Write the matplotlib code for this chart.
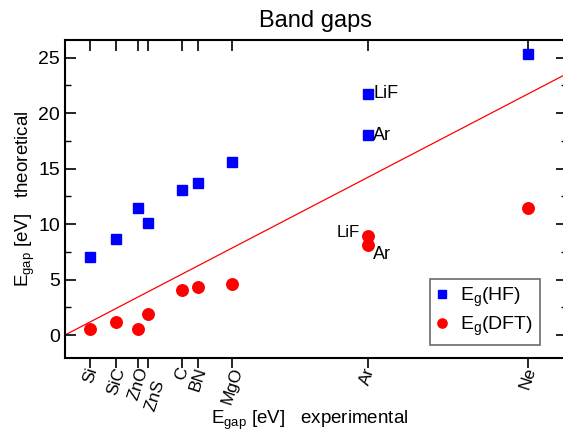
import matplotlib
matplotlib.use("Agg")
import matplotlib.pyplot as plt
import matplotlib.transforms as mtransforms
from matplotlib.ticker import MultipleLocator

plt.rcParams['font.family'] = ['Liberation Sans', 'DejaVu Sans']
plt.rcParams['mathtext.fontset'] = 'custom'
plt.rcParams['mathtext.rm'] = 'Liberation Sans'
plt.rcParams['mathtext.it'] = 'Liberation Sans:italic'

materials = ['Si', 'SiC', 'ZnO', 'ZnS', 'C', 'BN', 'MgO', 'LiF', 'Ar', 'Ne']
e_exp = [1.17, 2.4, 3.44, 3.91, 5.48, 6.25, 7.83, 14.2, 14.2, 21.7]
e_hf = [7.0, 8.66, 11.4, 10.05, 13.05, 13.7, 15.55, 21.75, 18.0, 25.35]
e_dft = [0.57, 1.2, 0.57, 1.86, 4.05, 4.3, 4.62, 8.9, 8.1, 11.42]

tick_pos = [1.17, 2.4, 3.44, 3.91, 5.48, 6.25, 7.83, 14.2, 21.7]
tick_labels = ['Si', 'SiC', 'ZnO', 'ZnS', 'C', 'BN', 'MgO', 'Ar', 'Ne']

xmin, xmax = 0.0, 23.55
ymin, ymax = -2.07, 26.58

fig = plt.figure(figsize=(5.63, 4.36), dpi=100)
ax = fig.add_axes([65/563, 78/436, (567-65)/563, (358-40)/436])

ax.plot([xmin, xmax], [xmin, xmax], color='red', lw=0.9, zorder=1)
ax.plot(e_exp, e_hf, 's', color='blue', ms=7.2, mec='blue', lw=0,
        label=r'E$_\mathrm{g}$(HF)', zorder=3)
ax.plot(e_exp, e_dft, 'o', color='red', ms=8.3, mec='red', lw=0,
        label=r'E$_\mathrm{g}$(DFT)', zorder=3)

ax.set_xlim(xmin, xmax)
ax.set_ylim(ymin, ymax)

ax.set_xticks(tick_pos)
ax.set_xticklabels(tick_labels, rotation=72, fontsize=12.5, ha='center', va='top')
ax.set_yticks([0, 5, 10, 15, 20, 25])
ax.yaxis.set_minor_locator(MultipleLocator(2.5))
ax.tick_params(axis='y', labelsize=14, direction='in', length=8, width=1.2,
               right=True, which='major')
ax.tick_params(axis='y', direction='in', length=4, width=1.0, right=True, which='minor')
ax.tick_params(axis='x', direction='out', length=7, width=1.2, top=False, pad=-1.5)

# stagger the ZnS label like in the original
for lab in ax.get_xticklabels():
    if lab.get_text() == 'ZnS':
        off = mtransforms.ScaledTranslation(7/100, -12/100, fig.dpi_scale_trans)
        lab.set_transform(lab.get_transform() + off)

# top ticks pointing in
sec = ax.secondary_xaxis('top')
sec.set_xticks(tick_pos)
sec.set_xticklabels([])
sec.tick_params(direction='in', length=8, width=1.2)
sec.spines['top'].set_visible(False)

for s in ax.spines.values():
    s.set_linewidth(1.5)

ax.set_title('Band gaps', fontsize=17, pad=9)
ax.set_xlabel(r'E$_\mathrm{gap}$ [eV]   experimental', fontsize=13.5)
ax.xaxis.set_label_coords((310-65)/502, (358-420)/318)
ax.xaxis.label.set_va('center')
ax.set_ylabel(r'E$_\mathrm{gap}$ [eV]   theoretical', fontsize=13.5)
ax.yaxis.set_label_coords((25-65)/502, 0.5)
ax.yaxis.label.set_va('center')

# point annotations
ax.annotate('LiF', (e_exp[7], e_hf[7]), xytext=(4, 0), textcoords='offset points',
            fontsize=13, va='center', ha='left')
ax.annotate('Ar', (e_exp[8], e_hf[8]), xytext=(4, 0), textcoords='offset points',
            fontsize=13, va='center', ha='left')
ax.annotate('LiF', (e_exp[7], e_dft[7]), xytext=(-6, 3), textcoords='offset points',
            fontsize=12, va='center', ha='right')
ax.annotate('Ar', (e_exp[8], e_dft[8]), xytext=(4, -7), textcoords='offset points',
            fontsize=13, va='center', ha='left')

leg = ax.legend(loc='lower right', bbox_to_anchor=((540-65)/(567-65), (358-345)/(358-40)),
                fontsize=14, frameon=True, fancybox=False, edgecolor='#444444',
                handlelength=0.5, handletextpad=0.7, borderpad=0.35, labelspacing=0.3,
                markerscale=0.8, borderaxespad=0)
leg.get_frame().set_linewidth(1.2)

fig.savefig('out.png', dpi=100)
